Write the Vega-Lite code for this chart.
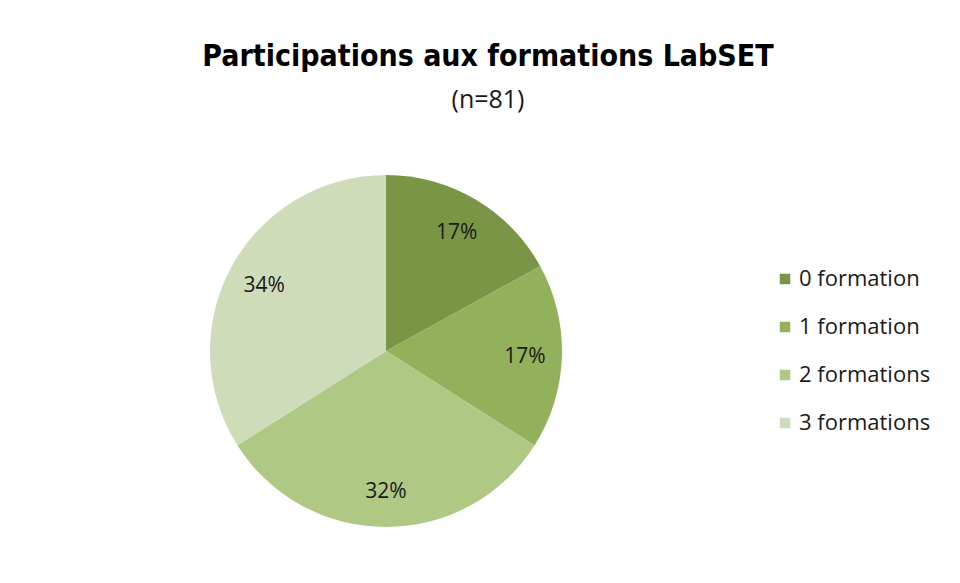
{
  "$schema": "https://vega.github.io/schema/vega-lite/v6.json",
  "autosize": "none",
  "padding": {"left": 210, "top": 175, "right": 398, "bottom": 56},
  "width": 352,
  "height": 352,
  "background": "white",
  "view": {"stroke": null},
  "title": {
    "text": "Participations aux formations LabSET",
    "subtitle": "(n=81)",
    "anchor": "middle",
    "frame": "group",
    "dx": 102,
    "offset": 62,
    "font": "DejaVu Sans Condensed, sans-serif",
    "fontSize": 30,
    "fontWeight": "bold",
    "color": "#000000",
    "subtitleFont": "Open Sans, sans-serif",
    "subtitleFontSize": 25,
    "subtitleColor": "#1a1a1a",
    "subtitlePadding": 16
  },
  "data": {
    "values": [
      {"categorie": "0 formation", "pourcentage": 17, "label": "17%"},
      {"categorie": "1 formation", "pourcentage": 17, "label": "17%"},
      {"categorie": "2 formations", "pourcentage": 32, "label": "32%"},
      {"categorie": "3 formations", "pourcentage": 34, "label": "34%"}
    ]
  },
  "encoding": {
    "theta": {"field": "pourcentage", "type": "quantitative", "stack": true},
    "order": {"field": "categorie", "type": "nominal", "sort": "ascending"},
    "color": {
      "field": "categorie",
      "type": "nominal",
      "scale": {
        "domain": ["0 formation", "1 formation", "2 formations", "3 formations"],
        "range": ["#7a9545", "#93b05a", "#afc883", "#cfdcba"]
      },
      "legend": {
        "title": null,
        "orient": "none",
        "legendX": 564,
        "legendY": 93,
        "symbolType": "square",
        "symbolSize": 110,
        "symbolStrokeWidth": 0,
        "labelFont": "Open Sans, sans-serif",
        "labelFontSize": 22,
        "labelColor": "#1a1a1a",
        "labelOffset": 3,
        "rowPadding": 26,
        "labelLimit": 300
      }
    }
  },
  "layer": [
    {"mark": {"type": "arc", "outerRadius": 176, "stroke": null}},
    {
      "mark": {"type": "text", "radius": 139, "dy": 2, "font": "Open Sans, sans-serif", "fontSize": 21, "color": "#1a1a1a"},
      "encoding": {"text": {"field": "label", "type": "nominal"}, "color": {"value": "#1a1a1a"}}
    }
  ]
}
